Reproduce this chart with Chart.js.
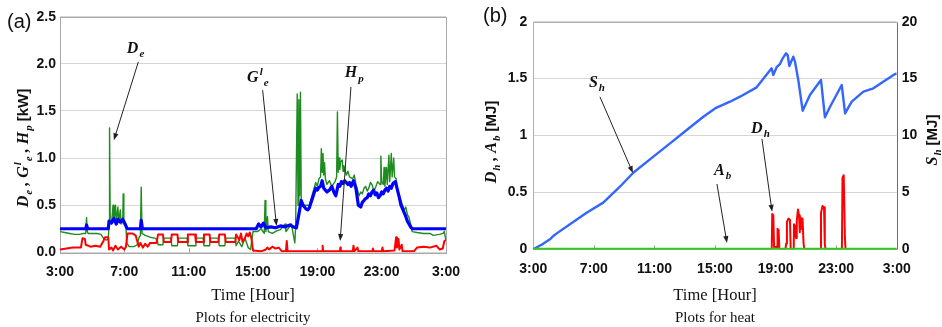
<!DOCTYPE html>
<html>
<head>
<meta charset="utf-8">
<script src="https://cdn.jsdelivr.net/npm/chart.js@4/dist/chart.umd.min.js"></script>
<style>
  html, body { margin: 0; padding: 0; background: #fff; }
  #wrap { position: relative; width: 942px; height: 327px; overflow: hidden; background: #fff; }
  canvas { position: absolute; top: 0; }
  #elec { left: 0; }
  #heat { left: 471px; }
</style>
</head>
<body>
<div id="wrap">
  <canvas id="elec" width="471" height="327" style="width:471px;height:327px"></canvas>
  <canvas id="heat" width="471" height="327" style="width:471px;height:327px"></canvas>
</div>
<script>
// ---- shared time axis (hours since midnight, 3:00 to 3:00 next day) ----
const hourTicks  = [3, 7, 11, 15, 19, 23, 27];
const hourLabels = ['3:00', '7:00', '11:00', '15:00', '19:00', '23:00', '3:00'];

// ---- (a) electricity, kW ----
const elecTicks      = [0, 0.5, 1, 1.5, 2, 2.5];
const elecTickLabels = ['0.0', '0.5', '1.0', '1.5', '2.0', '2.5'];

// D_e : electricity demand [hour, kW]
const demandElec = [
  [3.0,0.22],[3.3,0.21],[3.6,0.20],[3.9,0.19],[4.2,0.19],[4.45,0.20],[4.6,0.20],[4.65,0.37],[4.7,0.22],
  [4.75,0.20],[5.0,0.20],[5.3,0.20],[5.55,0.19],[5.7,0.15],[5.85,0.13],[6.0,0.14],[6.05,0.30],[6.08,1.32],
  [6.12,0.35],[6.2,0.30],[6.3,0.50],[6.35,0.32],[6.45,0.50],[6.5,0.33],[6.6,0.48],[6.65,0.32],[6.75,0.45],
  [6.8,0.30],[6.9,0.32],[6.93,0.62],[6.97,0.30],[7.1,0.28],[7.15,0.10],[7.3,0.06],[7.6,0.06],[7.8,0.08],
  [7.9,0.15],[8.0,0.18],[8.05,0.69],[8.1,0.20],[8.3,0.18],[8.6,0.16],[8.9,0.15],[9.05,0.13],[9.1,0.08],
  [9.4,0.08],[9.45,0.15],[9.9,0.15],[9.95,0.07],[10.3,0.07],[10.35,0.15],[10.9,0.15],[10.95,0.07],
  [11.4,0.07],[11.45,0.15],[11.9,0.15],[11.95,0.07],[12.3,0.07],[12.35,0.15],[12.85,0.15],[12.9,0.07],
  [13.25,0.07],[13.3,0.15],[13.9,0.15],[13.95,0.07],[14.1,0.12],[14.3,0.06],[14.5,0.15],[14.7,0.05],
  [14.85,0.03],[15.0,0.22],[15.3,0.22],[15.5,0.25],[15.7,0.20],[15.75,0.55],[15.8,0.22],[15.9,0.38],
  [15.95,0.22],[16.2,0.20],[16.5,0.23],[16.7,0.24],[17.0,0.30],[17.05,0.22],[17.4,0.30],[17.45,0.24],
  [17.6,0.10],[17.65,0.26],[17.75,1.68],[17.8,0.50],[17.85,1.62],[17.9,0.60],[17.95,1.70],[18.0,0.55],
  [18.2,0.50],[18.5,0.50],[18.8,0.68],[18.9,0.74],[19.0,0.70],[19.1,0.78],[19.2,0.80],[19.25,1.10],
  [19.3,0.85],[19.35,1.05],[19.4,0.82],[19.45,0.95],[19.5,0.78],[19.6,0.72],[19.75,0.76],[19.9,0.70],
  [20.1,0.75],[20.2,0.80],[20.25,1.49],[20.3,0.85],[20.35,1.00],[20.4,0.88],[20.45,0.96],[20.55,0.98],
  [20.6,0.86],[20.65,0.92],[20.8,0.82],[20.9,0.86],[21.0,0.80],[21.2,0.78],[21.3,0.82],[21.4,0.72],
  [21.5,0.66],[21.6,0.60],[21.7,0.64],[21.8,0.62],[21.9,0.68],[22.0,0.70],[22.1,0.65],[22.2,0.68],
  [22.3,0.74],[22.4,0.72],[22.5,0.66],[22.6,0.68],[22.75,0.75],[22.9,0.72],[22.95,1.02],[23.0,0.75],
  [23.1,0.72],[23.15,0.90],[23.2,0.70],[23.3,0.90],[23.35,0.72],[23.45,1.03],[23.5,0.75],[23.6,1.05],
  [23.65,0.80],[23.75,1.00],[23.8,0.80],[23.9,0.78],[24.0,0.65],[24.1,0.60],[24.2,0.55],[24.3,0.50],
  [24.4,0.45],[24.5,0.48],[24.6,0.40],[24.7,0.37],[24.8,0.30],[24.9,0.22],[25.2,0.21],[25.6,0.20],
  [26.0,0.20],[26.2,0.18],[26.6,0.19],[26.8,0.20],[26.9,0.22],[27.0,0.12]
];

// G^l_e : electricity purchased from the grid [hour, kW]
const gridElec = [
  [3.0,0.25],[4.6,0.25],[4.65,0.29],[4.72,0.25],[6.0,0.25],[6.05,0.33],[6.2,0.31],[6.35,0.36],[6.5,0.30],
  [6.6,0.35],[6.75,0.32],[6.9,0.35],[7.05,0.30],[7.15,0.26],[7.2,0.25],[8.0,0.25],[8.05,0.34],[8.12,0.25],
  [15.2,0.25],[15.35,0.30],[15.5,0.27],[15.65,0.31],[15.8,0.26],[16.1,0.27],[16.4,0.26],[16.7,0.28],
  [17.0,0.27],[17.3,0.29],[17.5,0.27],[17.7,0.26],[17.85,0.40],[18.0,0.55],[18.1,0.50],[18.2,0.48],
  [18.3,0.46],[18.4,0.45],[18.5,0.47],[18.65,0.55],[18.8,0.63],[18.9,0.68],[19.0,0.66],[19.1,0.69],
  [19.2,0.70],[19.3,0.76],[19.4,0.68],[19.5,0.66],[19.6,0.64],[19.75,0.66],[19.9,0.70],[20.05,0.63],
  [20.15,0.60],[20.3,0.72],[20.4,0.70],[20.5,0.75],[20.6,0.73],[20.7,0.76],[20.8,0.74],[20.9,0.72],
  [21.0,0.74],[21.1,0.70],[21.25,0.76],[21.4,0.68],[21.55,0.50],[21.7,0.48],[21.8,0.53],[21.9,0.55],
  [22.0,0.57],[22.1,0.58],[22.2,0.62],[22.3,0.60],[22.4,0.64],[22.5,0.66],[22.6,0.61],[22.7,0.63],
  [22.8,0.58],[22.9,0.60],[23.0,0.64],[23.1,0.62],[23.2,0.66],[23.3,0.68],[23.4,0.65],[23.5,0.70],
  [23.6,0.68],[23.7,0.73],[23.85,0.75],[24.0,0.65],[24.1,0.58],[24.2,0.50],[24.3,0.46],[24.4,0.42],
  [24.5,0.38],[24.6,0.33],[24.7,0.30],[24.8,0.27],[24.9,0.25],[27.0,0.25]
];

// H_p : heat pump electricity [hour, kW]
const heatPumpElec = [
  [3.0,0.03],[3.4,0.04],[3.8,0.05],[4.3,0.05],[4.4,0.15],[4.55,0.14],[4.6,0.08],[4.9,0.06],[5.2,0.07],
  [5.5,0.06],[5.7,0.12],[5.8,0.16],[6.0,0.16],[6.05,0.03],[6.2,0.05],[6.3,0.02],[6.45,0.07],[6.6,0.03],
  [6.8,0.06],[7.0,0.03],[7.1,0.06],[7.2,0.20],[7.5,0.20],[7.7,0.18],[7.8,0.12],[7.9,0.06],[8.0,0.10],
  [8.15,0.05],[8.3,0.09],[8.45,0.06],[8.6,0.10],[8.8,0.10],[9.0,0.10],[9.1,0.19],[9.4,0.19],[9.45,0.11],
  [9.9,0.11],[9.95,0.19],[10.3,0.19],[10.35,0.11],[10.9,0.11],[10.95,0.19],[11.4,0.19],[11.45,0.11],
  [11.9,0.11],[11.95,0.19],[12.3,0.19],[12.35,0.11],[12.85,0.11],[12.9,0.19],[13.25,0.19],[13.3,0.11],
  [13.9,0.11],[13.95,0.19],[14.05,0.16],[14.15,0.13],[14.25,0.20],[14.35,0.11],[14.5,0.15],[14.6,0.20],
  [14.7,0.17],[14.8,0.21],[14.9,0.15],[15.0,0.02],[15.5,0.01],[15.8,0.03],[15.9,0.05],[16.0,0.03],
  [16.2,0.06],[16.4,0.04],[16.6,0.05],[16.8,0.01],[17.05,0.01],[17.1,0.12],[17.15,0.01],[19.3,0.01],
  [19.33,0.07],[19.36,0.01],[20.4,0.01],[20.43,0.05],[20.46,0.01],[21.2,0.01],[21.25,0.07],[21.3,0.01],
  [21.5,0.05],[21.55,0.01],[22.4,0.01],[22.45,0.04],[22.5,0.01],[23.0,0.01],[23.05,0.05],[23.1,0.01],
  [23.8,0.02],[23.9,0.16],[23.95,0.05],[24.05,0.14],[24.1,0.03],[24.25,0.08],[24.3,0.01],[25.0,0.01],
  [25.2,0.05],[25.6,0.06],[26.0,0.05],[26.4,0.07],[26.6,0.03],[26.8,0.04],[26.9,0.12],[27.0,0.13]
];

// ---- (b) heat, MJ ----
const heatTicks       = [0, 0.5, 1, 1.5, 2];
const heatTickLabels  = ['0', '0.5', '1', '1.5', '2'];
const storeTicks      = [0, 5, 10, 15, 20];
const storeTickLabels = ['0', '5', '10', '15', '20'];

// S_h : stored heat [hour, MJ] (right axis)
const storedHeat = [
  [3.0,0],[3.6,0.45],[4.1,0.88],[4.32,1.17],[4.55,1.4],[5.42,2.2],[6.52,3.22],[7.62,4.1],[8.72,5.5],
  [9.6,6.73],[10.93,8.14],[12.03,9.31],[13.13,10.48],[14.23,11.65],[15.0,12.38],[15.99,12.97],
  [16.65,13.41],[17.75,14.23],[18.74,15.9],[18.85,15.32],[19.07,16.0],[19.29,16.28],[19.47,16.78],
  [19.69,17.22],[19.8,17.07],[19.91,16.1],[20.17,16.93],[20.28,16.5],[20.5,14.88],[20.79,12.18],
  [21.27,13.56],[22.0,14.88],[22.26,11.6],[22.6,12.53],[23.37,14.44],[23.59,11.95],[24.03,12.97],
  [24.8,13.85],[25.46,14.15],[26.89,15.4],[27.0,15.45]
];

// D_h : heat demand [hour, MJ]
const heatDemand = [
  [3.0,0],[18.7,0],[18.75,0.03],[18.78,0.31],[18.85,0.30],[18.9,0.02],[19.1,0.02],[19.13,0.18],[19.2,0.17],
  [19.25,0],[19.65,0],[19.7,0.05],[19.75,0.24],[19.85,0.27],[19.95,0.26],[20.0,0],[20.2,0],[20.22,0.22],
  [20.3,0.20],[20.35,0.10],[20.4,0.25],[20.48,0.35],[20.55,0.30],[20.6,0.15],[20.65,0.28],[20.72,0.18],
  [20.78,0.27],[20.85,0.05],[20.9,0],[21.95,0],[22.0,0.32],[22.1,0.38],[22.2,0.37],[22.25,0.05],[22.3,0],
  [23.38,0],[23.42,0.63],[23.5,0.65],[23.58,0.10],[23.62,0],[27.0,0]
];

// A_b : auxiliary boiler heat [hour, MJ]
const boilerHeat = [[3.0,0],[27.0,0]];

// ---- annotation labels with arrows, in data units [hour, value] ----
const elecNotes = [
  { parts: [['D','v'],['e','sub']],             at: [7.7, 2.17],   from: [7.87, 2.02],  to: [6.35, 1.19] },
  { parts: [['G','v'],['l','sup'],['e','sub']], at: [15.3, 1.86],  from: [15.6, 1.72],  to: [16.46, 0.28] },
  { parts: [['H','v'],['p','sub']],             at: [21.3, 1.91],  from: [21.09, 1.755], to: [20.42, 0.12] }
];
const heatNotes = [
  { parts: [['S','v'],['h','sub']], at: [7.2, 1.47],   from: [7.4, 1.34],   to: [9.58, 0.67] },
  { parts: [['D','v'],['h','sub']], at: [18.0, 1.07],  from: [18.1, 0.97],  to: [18.77, 0.33] },
  { parts: [['A','v'],['b','sub']], at: [15.5, 0.70],  from: [15.13, 0.574], to: [15.79, 0.055] }
];

const elecTitle  = [['D','v'],['e','sub'],[' , ','v'],['G','v'],['l','sup'],['e','sub'],[' , ','v'],['H','v'],['p','sub'],[' ','v'],['[kW]','n']];
const heatTitle  = [['D','v'],['h','sub'],[' , ','v'],['A','v'],['b','sub'],[' ','v'],['[MJ]','n']];
const storeTitle = [['S','v'],['h','sub'],[' ','v'],['[MJ]','n']];

// ---------------------------------------------------------------------
const TICK_FONT = { family: '"Liberation Sans", Arial, sans-serif', size: 14, weight: 'bold' };
const SERIF = '"Liberation Serif", "Times New Roman", serif';
const SANS = '"Liberation Sans", Arial, sans-serif';

const toXY = arr => arr.map(p => ({ x: p[0], y: p[1] }));
const fixTicks = values => scale => { scale.ticks = values.map(v => ({ value: v })); };

function partFont(kind, size) {
  if (kind === 'n') return `bold ${Math.round(size * 0.92)}px ${SANS}`;
  if (kind === 'sub' || kind === 'sup') return `italic bold ${Math.round(size * 0.68)}px ${SERIF}`;
  return `italic bold ${size}px ${SERIF}`;
}
// draws a run of text with italic variables, sub/superscripts; centred on x, baseline y
function drawRich(ctx, parts, x, y, size) {
  let total = 0;
  const widths = parts.map(([t, k]) => { ctx.font = partFont(k, size); const w = ctx.measureText(t).width + (k === 'sub' || k === 'sup' ? 1 : 0); total += w; return w; });
  let cx = x - total / 2;
  ctx.textAlign = 'left';
  ctx.textBaseline = 'alphabetic';
  parts.forEach(([t, k], i) => {
    ctx.font = partFont(k, size);
    let dy = 0;
    if (k === 'sub') dy = size * 0.28;
    if (k === 'sup') dy = -size * 0.42;
    ctx.fillText(t, cx + (k === 'sub' || k === 'sup' ? 1 : 0), y + dy);
    cx += widths[i];
  });
}
function drawRotated(ctx, parts, cx, cy, size) {
  ctx.save();
  ctx.translate(cx, cy);
  ctx.rotate(-Math.PI / 2);
  drawRich(ctx, parts, 0, 0, size);
  ctx.restore();
}
function arrow(ctx, x1, y1, x2, y2) {
  const a = Math.atan2(y2 - y1, x2 - x1), L = 7, W = 2.6;
  ctx.strokeStyle = '#222';
  ctx.fillStyle = '#222';
  ctx.lineWidth = 1;
  ctx.beginPath();
  ctx.moveTo(x1, y1);
  ctx.lineTo(x2 - Math.cos(a) * L * 0.8, y2 - Math.sin(a) * L * 0.8);
  ctx.stroke();
  ctx.beginPath();
  ctx.moveTo(x2, y2);
  ctx.lineTo(x2 - Math.cos(a) * L - Math.sin(a) * W, y2 - Math.sin(a) * L + Math.cos(a) * W);
  ctx.lineTo(x2 - Math.cos(a) * L + Math.sin(a) * W, y2 - Math.sin(a) * L - Math.cos(a) * W);
  ctx.closePath();
  ctx.fill();
}
function drawNotes(chart, notes, yId) {
  const ctx = chart.ctx, xs = chart.scales.x, ys = chart.scales[yId];
  notes.forEach(n => {
    arrow(ctx, xs.getPixelForValue(n.from[0]), ys.getPixelForValue(n.from[1]),
               xs.getPixelForValue(n.to[0]), ys.getPixelForValue(n.to[1]));
    ctx.fillStyle = '#111';
    drawRich(ctx, n.parts, xs.getPixelForValue(n.at[0]), ys.getPixelForValue(n.at[1]) + 5, 16);
  });
}
function innerTicks(chart) {
  const ctx = chart.ctx, xs = chart.scales.x, a = chart.chartArea;
  ctx.save();
  ctx.strokeStyle = '#9a9a9a';
  ctx.lineWidth = 1;
  hourTicks.slice(1, -1).forEach(h => {
    const px = Math.round(xs.getPixelForValue(h)) + 0.5;
    ctx.beginPath(); ctx.moveTo(px, a.bottom); ctx.lineTo(px, a.bottom - 4); ctx.stroke();
  });
  ctx.restore();
}
function captions(chart, title, sub, panel, panelX, panelY) {
  const ctx = chart.ctx, a = chart.chartArea, mid = (a.left + a.right) / 2;
  ctx.save();
  ctx.fillStyle = '#111';
  ctx.textAlign = 'center';
  ctx.textBaseline = 'middle';
  ctx.font = `16.5px ${SERIF}`;
  ctx.fillText(title, mid, 296);
  ctx.font = `15px ${SERIF}`;
  ctx.fillText(sub, mid, 318);
  ctx.font = `20px ${SANS}`;
  ctx.textAlign = 'left';
  ctx.fillText(panel, panelX, panelY);
  ctx.restore();
}

const baseX = {
  type: 'linear', min: 3, max: 27,
  afterBuildTicks: fixTicks(hourTicks),
  ticks: { callback: (v, i) => hourLabels[i], font: TICK_FONT, color: '#111', padding: 11, maxRotation: 0, autoSkip: false },
  grid: { display: false, drawTicks: false },
  border: { display: false }
};

// ---------------- (a) Plots for electricity ----------------
new Chart(document.getElementById('elec'), {
  type: 'line',
  data: {
    datasets: [
      { label: 'H_p', data: toXY(heatPumpElec), borderColor: '#ff0000', borderWidth: 2, order: 0 },
      { label: 'G_e', data: toXY(gridElec), borderColor: '#0000ff', borderWidth: 3.2, order: 1 },
      { label: 'D_e', data: toXY(demandElec), borderColor: '#1e8c1e', borderWidth: 1.4, order: 2 }
    ]
  },
  options: {
    responsive: false, animation: false,
    elements: { point: { radius: 0 }, line: { tension: 0, borderJoinStyle: 'round' } },
    layout: { padding: { top: 16.7, right: 17, bottom: 0, left: 0 } },
    plugins: { legend: { display: false }, tooltip: { enabled: false } },
    scales: {
      x: Object.assign({}, baseX, { afterFit: s => { s.height = 74.7; } }),
      y: {
        min: 0, max: 2.5,
        afterBuildTicks: fixTicks(elecTicks),
        ticks: { callback: (v, i) => elecTickLabels[i], font: TICK_FONT, color: '#111', padding: 4 },
        grid: { color: '#d6d6d6', drawTicks: false },
        border: { display: false },
        afterFit: s => { s.width = 60; }
      }
    }
  },
  plugins: [{
    id: 'elecDecor',
    beforeDatasetsDraw(chart) {
      const ctx = chart.ctx, a = chart.chartArea;
      ctx.save();
      ctx.strokeStyle = '#a8a8a8';
      ctx.lineWidth = 1;
      ctx.strokeRect(Math.round(a.left) + 0.5, Math.round(a.top) + 0.5, Math.round(a.right - a.left), Math.round(a.bottom - a.top));
      ctx.restore();
      innerTicks(chart);
    },
    afterDraw(chart) {
      const ctx = chart.ctx;
      ctx.save();
      ctx.fillStyle = '#111';
      drawRotated(ctx, elecTitle, 28, 148, 16);
      drawNotes(chart, elecNotes, 'y');
      ctx.restore();
      captions(chart, 'Time [Hour]', 'Plots for electricity', '(a)', 7, 22);
    }
  }]
});

// ---------------- (b) Plots for heat ----------------
new Chart(document.getElementById('heat'), {
  type: 'line',
  data: {
    datasets: [
      { label: 'A_b', data: toXY(boilerHeat), borderColor: '#00e600', borderWidth: 3.2, yAxisID: 'y', order: 0 },
      { label: 'D_h', data: toXY(heatDemand), borderColor: '#ff0000', borderWidth: 2, yAxisID: 'y', order: 1 },
      { label: 'S_h', data: toXY(storedHeat), borderColor: '#3366ff', borderWidth: 2.4, yAxisID: 'y2', order: 2 }
    ]
  },
  options: {
    responsive: false, animation: false,
    elements: { point: { radius: 0 }, line: { tension: 0, borderJoinStyle: 'round' } },
    layout: { padding: { top: 21.7, right: 0, bottom: 0, left: 0 } },
    plugins: { legend: { display: false }, tooltip: { enabled: false } },
    scales: {
      x: Object.assign({}, baseX, { afterFit: s => { s.height = 77.7; } }),
      y: {
        position: 'left', min: 0, max: 2,
        afterBuildTicks: fixTicks(heatTicks),
        ticks: { callback: (v, i) => heatTickLabels[i], font: TICK_FONT, color: '#111', padding: 6 },
        grid: { color: '#d6d6d6', drawTicks: false },
        border: { display: false },
        afterFit: s => { s.width = 62.3; }
      },
      y2: {
        position: 'right', min: 0, max: 20,
        afterBuildTicks: fixTicks(storeTicks),
        ticks: { callback: (v, i) => storeTickLabels[i], font: TICK_FONT, color: '#111', padding: 5 },
        grid: { display: false, drawTicks: false },
        border: { display: false },
        afterFit: s => { s.width = 45.3; }
      }
    }
  },
  plugins: [{
    id: 'heatDecor',
    beforeDatasetsDraw(chart) {
      const ctx = chart.ctx, a = chart.chartArea;
      ctx.save();
      ctx.lineWidth = 1;
      ctx.strokeStyle = '#b0b0b0';
      const l = Math.round(a.left) + 0.5, r = Math.round(a.right) + 0.5, t = Math.round(a.top) + 0.5, b = Math.round(a.bottom) + 0.5;
      ctx.beginPath(); ctx.moveTo(l, t); ctx.lineTo(l, b); ctx.lineTo(r, b); ctx.moveTo(l, t); ctx.lineTo(r, t); ctx.stroke();
      ctx.strokeStyle = '#6e6e6e';
      ctx.beginPath(); ctx.moveTo(r, t); ctx.lineTo(r, b); ctx.stroke();
      ctx.restore();
      innerTicks(chart);
    },
    afterDraw(chart) {
      const ctx = chart.ctx;
      ctx.save();
      ctx.fillStyle = '#111';
      drawRotated(ctx, heatTitle, 25, 142, 16);
      drawRotated(ctx, storeTitle, 466, 140, 16);
      drawNotes(chart, heatNotes, 'y');
      ctx.restore();
      captions(chart, 'Time [Hour]', 'Plots for heat', '(b)', 12, 16);
    }
  }]
});
</script>
</body>
</html>
